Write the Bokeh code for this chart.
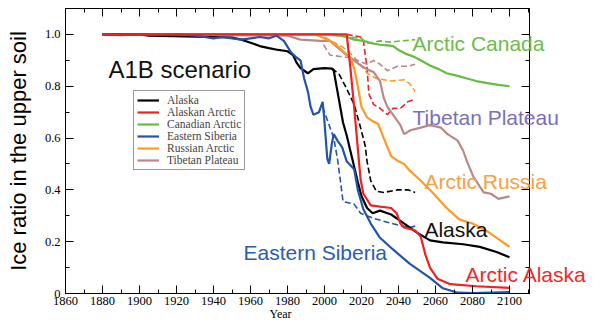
from bokeh.plotting import figure
from bokeh.models import (Range1d, LinearAxis, FixedTicker, CustomJSTickFormatter,
                          Legend, LegendItem, Label)
from bokeh.embed import file_html
from bokeh.resources import INLINE

nan = float("nan")

# ---------------- data ----------------
alaska_years = [1880, 1900, 1905, 1950, 1955, 1960, 1965, 1970, 1975, 1980, 1983, 1985, 1987,
                1991, 1994, 2000, 2004, 2005, 2007, 2010, 2012, 2014, 2016, 2018, 2020, 2023,
                2026, 2030, 2036, 2041, 2046, 2050, 2057, 2064, 2075, 2084, 2093, 2100]
alaska_vals = [1.0, 1.0, 0.995, 0.988, 0.98, 0.968, 0.955, 0.947, 0.94, 0.935, 0.92, 0.89, 0.87,
               0.85, 0.866, 0.87, 0.868, 0.86, 0.78, 0.66, 0.61, 0.55, 0.49, 0.43, 0.375, 0.33,
               0.31, 0.32, 0.305, 0.28, 0.255, 0.235, 0.205, 0.197, 0.19, 0.18, 0.16, 0.14]

akarctic_years = [1880, 2012, 2014, 2016, 2018, 2019.5, 2021, 2025, 2030, 2036, 2039, 2041, 2043,
                  2049, 2052, 2054.5, 2057, 2061, 2068, 2082, 2100]
akarctic_vals = [1.0, 1.0, 0.87, 0.72, 0.56, 0.44, 0.385, 0.34, 0.335, 0.33, 0.31, 0.27, 0.255,
                 0.243, 0.22, 0.15, 0.10, 0.057, 0.036, 0.028, 0.022]

canada_years = [1880, 2005, 2012, 2016, 2021, 2026, 2030, 2034, 2037, 2040, 2044, 2048, 2052,
                2057, 2062, 2066, 2072, 2077, 2082, 2088, 2094, 2100]
canada_vals = [1.0, 1.0, 0.99, 0.98, 0.975, 0.965, 0.96, 0.958, 0.955, 0.94, 0.925, 0.915, 0.90,
               0.88, 0.865, 0.85, 0.84, 0.83, 0.82, 0.812, 0.805, 0.80]

siberia_years = [1880, 1890, 1900, 1910, 1920, 1930, 1935, 1940, 1945, 1950, 1955, 1960, 1965,
                 1970, 1974, 1978, 1982, 1985, 1987, 1989, 1991, 1992.5, 1994, 1997, 1999,
                 1999.8, 2001.5, 2002.5, 2004, 2005, 2007, 2009.5, 2012, 2016, 2018, 2021, 2025,
                 2030, 2037, 2046, 2057, 2064, 2072, 2080, 2100]
siberia_vals = [1.0, 0.997, 1.0, 0.998, 1.0, 0.995, 0.99, 0.985, 0.99, 0.985, 0.98, 0.985, 0.99,
                0.985, 0.995, 0.975, 0.93, 0.91, 0.90, 0.83, 0.78, 0.72, 0.69, 0.70, 0.74,
                0.68, 0.52, 0.50, 0.58, 0.615, 0.59, 0.565, 0.51, 0.48, 0.40, 0.325, 0.27,
                0.215, 0.17, 0.115, 0.06, 0.02, 0.003, 0.002, 0.005]

russia_years = [1880, 1995, 2000, 2003, 2007, 2010, 2014, 2016, 2018, 2020, 2023, 2026, 2029,
                2032, 2036, 2040, 2043, 2046, 2052, 2059, 2066, 2073, 2080, 2088, 2095, 2100]
russia_vals = [1.0, 1.0, 0.985, 0.975, 0.955, 0.935, 0.91, 0.87, 0.80, 0.72, 0.68, 0.665, 0.655,
               0.60, 0.53, 0.51, 0.50, 0.475, 0.435, 0.385, 0.33, 0.285, 0.27, 0.24, 0.205, 0.18]

tibet_years = [1880, 1980, 1987, 1998, 2003, 2007, 2012, 2016, 2019.5, 2023, 2026.5, 2030, 2032,
               2034, 2037, 2041, 2043, 2046.5, 2052, 2057, 2063, 2066.5, 2072, 2075, 2077,
               2080.5, 2086, 2090, 2094, 2100]
tibet_vals = [1.0, 0.995, 0.98, 0.975, 0.975, 0.95, 0.92, 0.90, 0.88, 0.865, 0.855, 0.82, 0.755,
              0.72, 0.69, 0.65, 0.615, 0.63, 0.64, 0.65, 0.64, 0.615, 0.59, 0.55, 0.51,
              0.45, 0.39, 0.385, 0.365, 0.375]

# dashed variants (end in 2050)
alaska_d_years = [2004, 2008, 2012, 2016, 2019.5, 2022, 2023, 2025, 2028, 2032, 2039.5, 2045, 2049]
alaska_d_vals = [0.87, 0.845, 0.79, 0.73, 0.64, 0.57, 0.51, 0.435, 0.395, 0.39, 0.40, 0.40, 0.39]

akarctic_d_years = [2012, 2019.5, 2021, 2023, 2024, 2026.5, 2030, 2034, 2037, 2041, 2045, 2049]
akarctic_d_vals = [1.0, 0.99, 0.975, 0.87, 0.77, 0.73, 0.715, 0.69, 0.715, 0.715, 0.74, 0.75]

canada_d_years = [2000, 2020, 2023, 2030, 2036, 2041, 2046, 2049]
canada_d_vals = [1.0, 0.985, 0.965, 0.975, 0.97, 0.975, 0.977, 0.98]

siberia_d_years = [1880, 1930, nan, 1999, 2002, 2005, 2007, 2008.5, 2010, 2016, 2019.5, 2026.5,
                   2034, 2041, 2046, 2049]
siberia_d_vals = [1.0, 1.0, nan, 0.72, 0.66, 0.60, 0.52, 0.44, 0.355, 0.345, 0.31, 0.29,
                  0.275, 0.262, 0.255, 0.26]

russia_d_years = [2000, 2005, 2010, 2015, 2020, 2023, 2028, 2036, 2043, 2046, 2049]
russia_d_vals = [0.99, 0.97, 0.95, 0.92, 0.88, 0.85, 0.83, 0.82, 0.825, 0.81, 0.78]

tibet_d_years = [1999.5, 2003, 2008.5, 2014, 2023, 2026.5, 2030, 2034, 2039.5, 2045, 2049]
tibet_d_vals = [0.96, 0.92, 0.915, 0.91, 0.885, 0.90, 0.885, 0.86, 0.877, 0.877, 0.885]

legend_names = ["Alaska", "Alaskan Arctic", "Canadian Arctic", "Eastern Siberia",
                "Russian Arctic", "Tibetan Plateau"]
line_colors = ["#000000", "#ee2222", "#66bb44", "#2255aa", "#ff9922", "#bb8888"]

x_ticks = list(range(1860, 2101, 20))
x_minor = list(range(1860, 2111, 10))
y_ticks = [0, 0.2, 0.4, 0.6, 0.8, 1.0]
y_minor = [0.1, 0.3, 0.5, 0.7, 0.9]

# region labels: text, x (year), y (ratio, baseline), colour
region_labels = [
    ("Arctic Canada", 2047.6, 0.963, "#6dbb4d"),
    ("Tibetan Plateau", 2047.6, 0.680, "#7a70b8"),
    ("Arctic Russia", 2054.0, 0.431, "#f7a045"),
    ("Alaska", 2054.0, 0.248, "#111111"),
    ("Eastern Siberia", 1956.2, 0.158, "#2a5cb0"),
    ("Arctic Alaska", 2076.2, 0.075, "#ee2a2a"),
]
scenario_text = "A1B scenario"

# ---------------- figure ----------------
p = figure(frame_width=464, frame_height=285, output_backend="svg", toolbar_location=None,
           x_range=Range1d(1860, 2110.8), y_range=Range1d(0, 1.1),
           min_border_left=65, min_border_right=72, min_border_top=8, min_border_bottom=30,
           background_fill_color="white", border_fill_color="white")
p.grid.visible = False
p.outline_line_color = "black"
p.outline_line_width = 1

xt = FixedTicker(ticks=x_ticks, minor_ticks=x_minor)
yt = FixedTicker(ticks=y_ticks, minor_ticks=y_minor + y_ticks)

def style_axis(ax, ticker):
    ax.ticker = ticker
    ax.major_tick_in = 8
    ax.major_tick_out = 0
    ax.minor_tick_in = 4
    ax.minor_tick_out = 0
    ax.axis_line_color = "black"
    ax.major_tick_line_color = "black"
    ax.minor_tick_line_color = "black"
    ax.major_label_text_font = "Liberation Serif"
    ax.major_label_text_font_size = "12.5px"
    ax.major_label_text_color = "black"

xa = p.xaxis[0]
style_axis(xa, xt)
xa.major_label_standoff = 3

ya = p.yaxis[0]
style_axis(ya, yt)
ya.major_label_standoff = 5
ya.formatter = CustomJSTickFormatter(code="return tick == 0 ? '0' : tick.toFixed(1);")
ya.axis_label = "Ice ratio in the upper soil"
ya.axis_label_text_font = "Liberation Sans"
ya.axis_label_text_font_size = "22px"
ya.axis_label_text_font_style = "normal"
ya.axis_label_text_color = "black"
ya.axis_label_standoff = 11

blank = CustomJSTickFormatter(code="return '';")
top = LinearAxis()
style_axis(top, xt)
top.formatter = blank
top.major_label_text_font_size = "0px"
top.major_label_standoff = 0
p.add_layout(top, "above")

right = LinearAxis()
style_axis(right, yt)
right.formatter = blank
right.major_label_text_font_size = "0px"
right.major_label_standoff = 0
p.add_layout(right, "right")

dashed = [(alaska_d_years, alaska_d_vals), (akarctic_d_years, akarctic_d_vals),
          (canada_d_years, canada_d_vals), (siberia_d_years, siberia_d_vals),
          (russia_d_years, russia_d_vals), (tibet_d_years, tibet_d_vals)]
solid = [(alaska_years, alaska_vals), (akarctic_years, akarctic_vals),
         (canada_years, canada_vals), (siberia_years, siberia_vals),
         (russia_years, russia_vals), (tibet_years, tibet_vals)]

for (xs, ys), c in zip(dashed, line_colors):
    p.line(xs, ys, line_color=c, line_width=1.6, line_dash="6 3")

order = [2, 5, 4, 0, 3, 1]
renderers = {}
for i in order:
    xs, ys = solid[i]
    renderers[i] = p.line(xs, ys, line_color=line_colors[i], line_width=2.2)

items = [LegendItem(label=legend_names[i], renderers=[renderers[i]]) for i in range(6)]
legend = Legend(items=items, location=(68, 123),
                label_text_font="Liberation Serif", label_text_font_size="11.5px",
                label_height=10, glyph_height=10, glyph_width=22, spacing=0,
                padding=3, margin=0, label_standoff=8,
                border_line_color="#333333", border_line_width=1,
                background_fill_color="white", background_fill_alpha=1.0)
p.add_layout(legend)

# scenario title inside the frame, drawn after (above) the legend
p.add_layout(Label(x=1883.2, y=0.866, text=scenario_text, text_color="#111111",
                   text_font="Liberation Sans", text_font_size="24px",
                   text_align="left", text_baseline="alphabetic"))

# region labels reach past the frame: place them in the right side panel (unclipped)
for text, x, y, col in region_labels:
    p.add_layout(Label(x=x, y=y, text=text, text_color=col, text_font="Liberation Sans",
                       text_font_size="21px", text_align="left", text_baseline="alphabetic"),
                 "right")

p.add_layout(Label(x=1976.2, y=-0.080, text="Year", text_color="black",
                   text_font="Liberation Serif", text_font_size="12px",
                   text_align="center", text_baseline="alphabetic"), "below")

open("out.html", "w").write(file_html(p, INLINE))
